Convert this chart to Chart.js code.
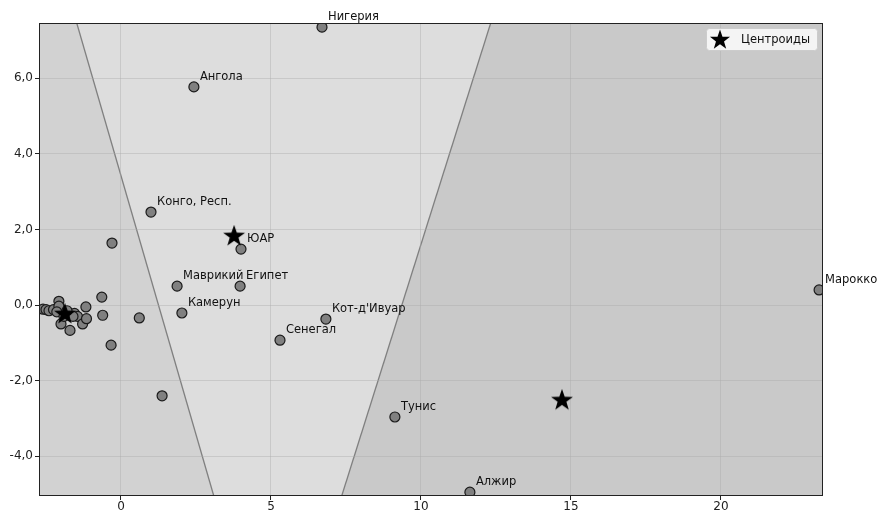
<!DOCTYPE html>
<html>
<head>
<meta charset="utf-8">
<script src="https://cdn.jsdelivr.net/npm/chart.js@4/dist/chart.umd.min.js"></script>
<style>
html,body{margin:0;padding:0;background:#fff;}
#wrap{width:879px;height:515px;}
</style>
</head>
<body>
<div id="wrap"><canvas id="c" width="879" height="515"></canvas></div>
<script>
// ---- data ----
const labeledNames = ["Нигерия","Ангола","Конго, Респ.","ЮАР","Маврикий","Египет","Камерун","Кот-д'Ивуар","Сенегал","Тунис","Алжир","Марокко"];
const labeledX = [6.70, 2.43, 1.00, 4.00, 1.87, 3.97, 2.03, 6.83, 5.30, 9.13, 11.63, 23.27];
const labeledY = [7.35, 5.77, 2.46, 1.48, 0.50, 0.50, -0.21, -0.37, -0.93, -2.96, -4.95, 0.40];

const otherX = [-2.60,-2.50,-2.40,-2.25,-2.07,-2.07,-2.14,-2.00,-1.70,-1.55,-1.45,-1.60,-1.28,-1.17,-1.15,-1.90,-1.80,-0.64,-0.61,0.61,-0.30,-0.33,1.37];
const otherY = [-0.11,-0.12,-0.15,-0.12,0.10,-0.03,-0.18,-0.50,-0.67,-0.22,-0.30,-0.30,-0.50,-0.05,-0.36,-0.30,-0.15,0.21,-0.27,-0.34,1.64,-1.06,-2.40];

const centroidX = [-1.87, 3.77, 14.70];
const centroidY = [-0.21, 1.85, -2.49];

const xTicks = [0, 5, 10, 15, 20];
const yTicks = [-4, -2, 0, 2, 4, 6];
const xRange = [-2.733, 23.40];
const yRange = [-5.05, 7.46];
const legendLabel = "Центроиды";

// ---- styles ----
const regionColors = ["#d2d2d2", "#dddddd", "#c9c9c9"];
const FONT = "'DejaVu Sans', sans-serif";

function makeStar(size){
  const c = document.createElement('canvas');
  c.width = size; c.height = size;
  const g = c.getContext('2d');
  const cx = size/2, cy = size/2 + size*0.05, R = size*0.48, r = R*0.4;
  g.beginPath();
  for(let i=0;i<10;i++){
    const a = -Math.PI/2 + i*Math.PI/5;
    const rr = i%2===0 ? R : r;
    const px = cx + rr*Math.cos(a), py = cy + rr*Math.sin(a);
    if(i===0) g.moveTo(px,py); else g.lineTo(px,py);
  }
  g.closePath();
  g.fillStyle = '#000';
  g.fill();
  return c;
}
const starImg = makeStar(24);
const legendStar = makeStar(22);

function bisectorX(a, b, y){
  const mx = (centroidX[a]+centroidX[b])/2, my = (centroidY[a]+centroidY[b])/2;
  const dx = centroidX[b]-centroidX[a], dy = centroidY[b]-centroidY[a];
  return mx - dy*(y-my)/dx;
}

const regionPlugin = {
  id: 'regions',
  beforeDraw(chart){
    const {ctx, chartArea:a, scales:{x, y}} = chart;
    ctx.save();
    ctx.beginPath(); ctx.rect(a.left, a.top, a.right-a.left, a.bottom-a.top); ctx.clip();
    ctx.fillStyle = regionColors[0];
    ctx.fillRect(a.left, a.top, a.right-a.left, a.bottom-a.top);
    const yT = yRange[1], yB = yRange[0];
    const P = (vx, vy) => [x.getPixelForValue(vx), y.getPixelForValue(vy)];
    const poly = (pts, col) => {
      ctx.beginPath();
      pts.forEach((p,i)=> i?ctx.lineTo(p[0],p[1]):ctx.moveTo(p[0],p[1]));
      ctx.closePath(); ctx.fillStyle = col; ctx.fill();
    };
    poly([P(bisectorX(0,1,yT),yT), P(bisectorX(1,2,yT),yT), P(bisectorX(1,2,yB),yB), P(bisectorX(0,1,yB),yB)], regionColors[1]);
    poly([P(bisectorX(1,2,yT),yT), P(xRange[1]+1,yT), P(xRange[1]+1,yB), P(bisectorX(1,2,yB),yB)], regionColors[2]);
    ctx.strokeStyle = '#808080'; ctx.lineWidth = 1.3;
    [[0,1],[1,2]].forEach(([i,j])=>{
      const p1 = P(bisectorX(i,j,yT),yT), p2 = P(bisectorX(i,j,yB),yB);
      ctx.beginPath(); ctx.moveTo(p1[0],p1[1]); ctx.lineTo(p2[0],p2[1]); ctx.stroke();
    });
    ctx.restore();
  },
  afterDatasetsDraw(chart){
    const {ctx, scales:{x, y}} = chart;
    ctx.save();
    ctx.font = "11.5px " + FONT;
    ctx.fillStyle = '#111';
    ctx.textBaseline = 'middle';
    ctx.textAlign = 'left';
    labeledNames.forEach((n,i)=>{
      ctx.fillText(n, x.getPixelForValue(labeledX[i]) + 6, y.getPixelForValue(labeledY[i]) - 10);
    });
    ctx.restore();
  },
  afterDraw(chart){
    const {ctx, chartArea:a} = chart;
    ctx.save();
    ctx.strokeStyle = '#222'; ctx.lineWidth = 1;
    ctx.strokeRect(Math.round(a.left)+0.5, Math.round(a.top)+0.5, Math.round(a.right-a.left)-1, Math.round(a.bottom-a.top)-1);
    // legend
    const bx = a.right - 117, by = a.top + 5, bw = 111, bh = 22;
    ctx.fillStyle = 'rgba(255,255,255,0.8)';
    ctx.strokeStyle = '#cccccc';
    ctx.beginPath();
    if (ctx.roundRect) ctx.roundRect(bx+0.5, by+0.5, bw, bh, 3); else ctx.rect(bx+0.5, by+0.5, bw, bh);
    ctx.fill(); ctx.stroke();
    ctx.drawImage(legendStar, bx + 3, by + 0);
    ctx.fillStyle = '#111';
    ctx.font = "11.5px " + FONT;
    ctx.textBaseline = 'middle';
    ctx.fillText(legendLabel, bx + 35, by + bh/2 + 1);
    ctx.restore();
  }
};

const toPts = (xs, ys) => xs.map((v,i)=>({x:v, y:ys[i]}));

new Chart(document.getElementById('c'), {
  type: 'scatter',
  data: {
    datasets: [
      { label: legendLabel, data: toPts(centroidX, centroidY), pointStyle: starImg, pointRadius: 12, clip: 0, order: 0 },
      { label: 'other', data: toPts(otherX, otherY), pointRadius: 5, pointHoverRadius: 5,
        backgroundColor: '#808080', borderColor: '#1a1a1a', borderWidth: 1.2, clip: 0, order: 1 },
      { label: 'labeled', data: toPts(labeledX, labeledY), pointRadius: 5, pointHoverRadius: 5,
        backgroundColor: '#808080', borderColor: '#1a1a1a', borderWidth: 1.2, clip: 0, order: 2 }
    ]
  },
  options: {
    responsive: false,
    animation: false,
    events: [],
    layout: { padding: { left: 0, right: 56, top: 23, bottom: 0 } },
    plugins: { legend: { display: false }, tooltip: { enabled: false } },
    scales: {
      x: {
        type: 'linear', min: xRange[0], max: xRange[1],
        afterBuildTicks: s => { s.ticks = xTicks.map(v=>({value:v})); },
        afterFit: s => { s.height = 19; },
        grid: { color: 'rgba(170,170,170,0.4)', tickColor: '#222', tickLength: 4, lineWidth: 1 },
        border: { display: false },
        ticks: { color: '#222', font: { family: FONT, size: 12 }, padding: 0, maxRotation: 0,
                 callback: v => String(v) }
      },
      y: {
        type: 'linear', min: yRange[0], max: yRange[1],
        afterBuildTicks: s => { s.ticks = yTicks.map(v=>({value:v})); },
        afterFit: s => { s.width = 39; },
        grid: { color: 'rgba(170,170,170,0.4)', tickColor: '#222', tickLength: 4, lineWidth: 1 },
        border: { display: false },
        ticks: { color: '#222', font: { family: FONT, size: 12 }, padding: 2,
                 callback: v => v.toFixed(1).replace('.', ',') }
      }
    }
  },
  plugins: [regionPlugin]
});
</script>
</body>
</html>
